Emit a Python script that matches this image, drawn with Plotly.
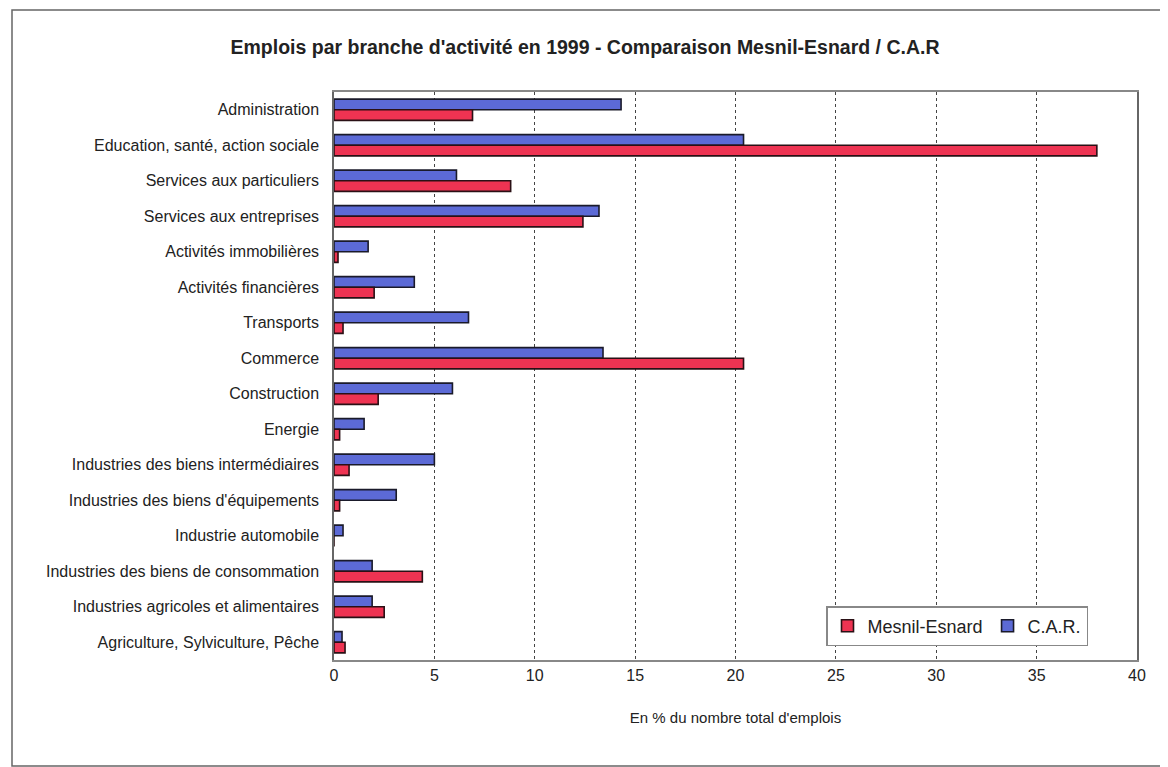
import plotly.graph_objects as go

categories = [
    "Administration",
    "Education, santé, action sociale",
    "Services aux particuliers",
    "Services aux entreprises",
    "Activités immobilières",
    "Activités financières",
    "Transports",
    "Commerce",
    "Construction",
    "Energie",
    "Industries des biens intermédiaires",
    "Industries des biens d'équipements",
    "Industrie automobile",
    "Industries des biens de consommation",
    "Industries agricoles et alimentaires",
    "Agriculture, Sylviculture, Pêche",
]
car_values = [14.3, 20.4, 6.1, 13.2, 1.7, 4.0, 6.7, 13.4, 5.9, 1.5, 5.0, 3.1, 0.45, 1.9, 1.9, 0.4]
mesnil_values = [6.9, 38.0, 8.8, 12.4, 0.2, 2.0, 0.45, 20.4, 2.2, 0.28, 0.75, 0.28, 0.0, 4.4, 2.5, 0.55]
x_ticks = [0, 5, 10, 15, 20, 25, 30, 35, 40]

# the page body has an 8px margin, so the figure starts at (8, 8) in the window
OFF = 8
W, H = 1160, 759
L, R, T, B = 326, 31, 84, 107
pw, ph = W - L - R, H - T - B

def px_x(p):
    return (p - OFF - L) / pw

def px_y(p):
    return (H - B - (p - OFF)) / ph

fig = go.Figure()
fig.add_trace(go.Bar(
    y=categories, x=car_values, orientation="h", name="C.A.R.",
    marker=dict(color="#5C6AD6", line=dict(color="#1a1a2a", width=1.6)),
    legendrank=2,
))
fig.add_trace(go.Bar(
    y=categories, x=mesnil_values, orientation="h", name="Mesnil-Esnard",
    marker=dict(color="#EE3352", line=dict(color="#2a1015", width=1.6)),
    legendrank=1,
))

fig.update_layout(
    width=W, height=H,
    margin=dict(l=L, r=R, t=T, b=B),
    paper_bgcolor="white", plot_bgcolor="white",
    barmode="group", bargap=0.40, bargroupgap=0.0,
    font=dict(family="Liberation Sans, Arial, sans-serif", color="#222", size=16),
    title=dict(
        text="<b>Emplois par branche d'activité en 1999 - Comparaison Mesnil-Esnard / C.A.R</b>",
        x=(585 - OFF) / W, xref="container", xanchor="center",
        y=1 - (47 - OFF) / H, yref="container", yanchor="middle",
        font=dict(size=19.5, color="#222"),
    ),
    xaxis=dict(
        range=[0, 40], tickvals=x_ticks, ticktext=[str(v) for v in x_ticks],
        showgrid=True, gridcolor="#444", gridwidth=1, griddash="dot",
        showline=True, linecolor="#888", linewidth=1.5, mirror=True,
        zeroline=False, ticks="", tickfont=dict(size=16),
        title=dict(text="En % du nombre total d'emplois", font=dict(size=15), standoff=30),
    ),
    yaxis=dict(
        autorange="reversed", showgrid=False,
        showline=True, linecolor="#666", linewidth=1.5, mirror=True,
        ticks="", tickfont=dict(size=16), ticklabelstandoff=10,
    ),
    legend=dict(
        orientation="h", x=px_x(826), xanchor="left", y=px_y(606), yanchor="top",
        bgcolor="white", bordercolor="#888", borderwidth=1.5,
        font=dict(size=18, color="#222"), itemwidth=30, traceorder="normal",
        tracegroupgap=0,
    ),
    showlegend=True,
)

# outer frame of the chart
fig.add_shape(type="rect", xref="paper", yref="paper",
              x0=px_x(12), x1=px_x(1162), y0=px_y(766), y1=px_y(10),
              line=dict(color="#666", width=1.5), fillcolor="rgba(0,0,0,0)", layer="below")

fig.write_html("out.html")
